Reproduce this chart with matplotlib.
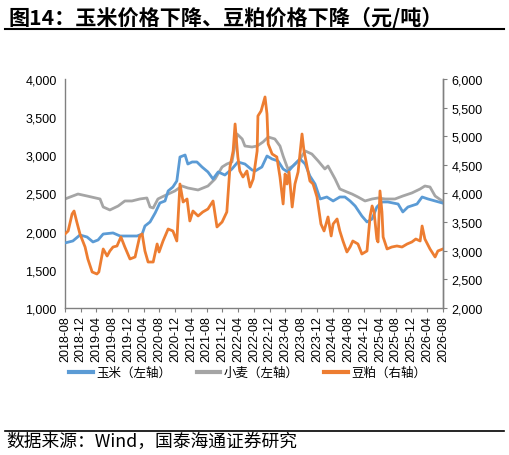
import matplotlib
matplotlib.use('Agg')
from matplotlib import pyplot as plt
from matplotlib.lines import Line2D

# 月份序号（从2018-08起算）与价格
corn_m = [0.0, 2.0, 3.8, 5.6, 7.1, 8.4, 9.7, 12.2, 14.0, 15.7, 18.3, 19.6, 20.3, 21.6,
          22.9, 24.1, 25.4, 26.2, 27.4, 28.4, 29.2, 30.5, 31.2, 32.3, 33.5, 34.8, 36.3,
          37.6, 38.9, 40.6, 42.4, 43.9, 45.7, 47.5, 48.3, 50.0, 51.3, 52.6, 54.1, 55.4,
          56.6, 57.9, 59.7, 61.0, 62.2, 63.5, 64.8, 66.5, 68.1, 69.8, 71.1, 72.4, 73.7,
          75.4, 76.7, 78.0, 79.2, 80.5, 82.0, 84.6, 85.8, 87.1, 89.4, 90.7, 92.2, 94.0, 95.8]
corn = [1852, 1878, 1956, 1930, 1865, 1891, 1969, 1983, 1943, 1943, 1943, 1969, 2074, 2127,
        2245, 2376, 2402, 2533, 2585, 2664, 2978, 3004, 2886, 2913, 2913, 2847, 2782,
        2690, 2782, 2742, 2821, 2913, 2886, 2808, 2795, 2847, 2991, 2952, 2926, 2821,
        2782, 2860, 2952, 2886, 2729, 2624, 2428, 2454, 2402, 2454, 2454, 2402, 2336,
        2205, 2127, 2166, 2323, 2389, 2389, 2362, 2258, 2323, 2362, 2454, 2428, 2402, 2376]

wheat_m = [0.0, 1.3, 3.3, 5.6, 8.9, 9.7, 11.4, 13.5, 15.2, 17.0, 19.0, 20.8, 21.6, 22.4,
           23.6, 24.6, 26.2, 27.9, 29.7, 31.2, 33.8, 36.3, 38.1, 39.9, 41.1, 42.4, 43.7,
           45.0, 45.7, 47.5, 48.8, 50.3, 51.6, 53.3, 54.6, 55.4, 56.6, 57.9, 59.7, 61.0,
           62.7, 64.3, 66.0, 66.8, 68.6, 69.8, 71.6, 72.9, 74.4, 76.2, 78.0, 79.5, 81.3,
           83.8, 85.8, 88.1, 90.2, 91.4, 92.7, 94.0, 95.8]
wheat = [2428, 2454, 2493, 2467, 2428, 2323, 2284, 2336, 2402, 2402, 2428, 2441, 2323, 2310,
         2428, 2454, 2493, 2533, 2598, 2572, 2546, 2598, 2690, 2847, 2886, 2913, 3279,
         3214, 3122, 3109, 3122, 3175, 3240, 3214, 3122, 2991, 2821, 2860, 2952, 3057,
         3017, 2926, 2821, 2860, 2690, 2559, 2520, 2493, 2454, 2402, 2428, 2441, 2428,
         2428, 2467, 2507, 2559, 2598, 2585, 2467, 2402]

meal_m = [0.0, 0.8, 1.8, 2.3, 3.0, 3.8, 5.1, 5.8, 6.9, 8.1, 8.6, 9.7, 10.7, 11.4, 12.2,
          13.2, 14.2, 15.2, 16.5, 17.8, 19.0, 19.6, 20.3, 21.1, 22.4, 23.4, 23.9, 24.9,
          26.2, 27.4, 28.4, 29.2, 30.0, 31.0, 31.7, 32.5, 33.8, 35.0, 36.3, 37.6, 38.6,
          39.9, 41.1, 41.9, 42.7, 43.2, 43.9, 44.4, 45.2, 46.2, 47.0, 47.8, 48.8, 49.0,
          49.8, 50.3, 50.8, 51.3, 51.6, 52.6, 53.8, 54.6, 55.4, 55.9, 56.4, 56.9, 57.7,
          58.4, 59.2, 60.2, 60.7, 61.5, 62.2, 63.0, 64.0, 65.0, 65.8, 66.8, 67.6, 68.1,
          69.1, 69.8, 70.6, 71.6, 72.4, 73.1, 74.4, 75.4, 76.7, 77.5, 78.0, 78.5, 79.2,
          79.5, 80.0, 80.5, 80.8, 81.8, 83.0, 84.3, 85.6, 86.9, 88.1, 89.1, 90.2, 90.7,
          91.4, 92.7, 94.0, 94.7, 96.0]
meal = [3293, 3345, 3642, 3694, 3502, 3293, 3065, 2856, 2629, 2594, 2629, 3031, 2908, 2996, 3065,
        3083, 3240, 3065, 2856, 2891, 3258, 3293, 2996, 2803, 2803, 3118, 2978, 3170,
        3380, 3345, 3170, 4166, 3851, 3904, 3520, 3694, 3607, 3677, 3729, 3869, 3415,
        3502, 3677, 4463, 4742, 5214, 4638, 4393, 4288, 4393, 4113, 4253, 4742, 5354,
        5441, 5563, 5686, 5389, 4865, 4690, 4638, 4288, 3817, 4341, 4166, 4376, 3764,
        4166, 4376, 5039, 4742, 4463, 4218, 4166, 3939, 3467, 3345, 3590, 3258, 3467,
        3555, 3345, 3170, 2978, 3065, 3170, 3118, 2943, 2996, 3607, 3782, 3677, 3205,
        3153, 4044, 3677, 3240, 3031, 3065, 3083, 3065, 3118, 3153, 3205, 3170, 3432,
        3205, 3031, 2891, 2996, 3031]

tick_labels = ['2018-08', '2018-12', '2019-04', '2019-08', '2019-12', '2020-04', '2020-08',
               '2020-12', '2021-04', '2021-08', '2021-12', '2022-04', '2022-08', '2022-12',
               '2023-04', '2023-08', '2023-12', '2024-04', '2024-08', '2024-12', '2025-04',
               '2025-08', '2025-12', '2026-04', '2026-08']

plt.rcParams['font.family'] = ['Liberation Sans', 'Noto Sans CJK SC', 'DejaVu Sans']
cjk = ['Noto Sans CJK SC', 'DejaVu Sans']

fig = plt.figure(figsize=(5.09, 4.56), dpi=100)
ax = fig.add_axes([0.1277, 0.3224, 0.7426, 0.5022])
ax2 = ax.twinx()

c_corn, c_wheat, c_meal = '#5B9BD5', '#A5A5A5', '#ED7D31'
ax.plot(corn_m, corn, color=c_corn, lw=2, zorder=3)
ax.plot(wheat_m, wheat, color=c_wheat, lw=2, zorder=2)
ax2.plot(meal_m, meal, color=c_meal, lw=2)

ax.set_xlim(0, 96)
ax.set_ylim(1000, 4000)
ax2.set_ylim(2000, 6000)
ax.set_yticks(range(1000, 4001, 500))
ax2.set_yticks(range(2000, 6001, 500))
ax.yaxis.set_major_formatter(matplotlib.ticker.StrMethodFormatter('{x:,.0f}'))
ax2.yaxis.set_major_formatter(matplotlib.ticker.StrMethodFormatter('{x:,.0f}'))
ax.set_xticks(range(0, 97, 4))
ax.set_xticklabels(tick_labels, rotation=90, fontsize=9)

for a in (ax, ax2):
    a.spines['top'].set_visible(False)
    for s in ('left', 'right', 'bottom'):
        a.spines[s].set_color('#808080')
        a.spines[s].set_linewidth(1)
    a.tick_params(axis='y', labelsize=9, length=3, color='#808080', pad=3)
ax.tick_params(axis='y', length=0, pad=6)
ax.tick_params(axis='x', length=3, color='#808080', pad=2)
ax2.spines['left'].set_visible(False)
ax2.spines['bottom'].set_visible(False)

handles = [Line2D([], [], color=c_corn, lw=3),
           Line2D([], [], color=c_wheat, lw=3),
           Line2D([], [], color=c_meal, lw=3)]
fig.legend(handles, ['玉米（左轴）', '小麦（左轴）', '豆粕（右轴）'],
           loc='center', bbox_to_anchor=(0.487, 0.181), ncol=3, frameon=False,
           prop={'family': cjk, 'size': 9}, handlelength=1.9, columnspacing=2.0,
           handletextpad=0.3)

fig.text(0.016, 0.962, '图14：玉米价格下降、豆粕价格下降（元/吨）', family=cjk,
         fontsize=15.2, fontweight='bold', va='center', ha='left')
fig.add_artist(Line2D([0.01, 0.99], [0.934, 0.934], color='black', lw=1.5))
fig.add_artist(Line2D([0.01, 0.99], [0.053, 0.053], color='black', lw=1.2))
fig.text(0.012, 0.03, '数据来源：Wind，国泰海通证券研究', family=cjk,
         fontsize=12.8, va='center', ha='left')

fig.savefig('out.png', dpi=100)
